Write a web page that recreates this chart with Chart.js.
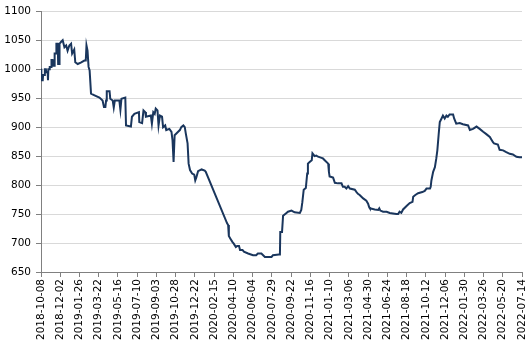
<!DOCTYPE html>
<html>
<head>
<meta charset="utf-8">
<script src="https://cdn.jsdelivr.net/npm/chart.js@4"></script>
<style>
  html, body { margin: 0; padding: 0; background: #fff; }
  #wrap { width: 530px; height: 354px; }
</style>
</head>
<body>
<div id="wrap"><canvas id="chart"></canvas></div>
<script>
// x tick labels, one every 55 days from 2018-10-08
const tickLabels = [
  "2018-10-08", "2018-12-02", "2019-01-26", "2019-03-22", "2019-05-16", "2019-07-10",
  "2019-09-03", "2019-10-28", "2019-12-22", "2020-02-15", "2020-04-10", "2020-06-04",
  "2020-07-29", "2020-09-22", "2020-11-16", "2021-01-10", "2021-03-06", "2021-04-30",
  "2021-06-24", "2021-08-18", "2021-10-12", "2021-12-06", "2022-01-30", "2022-03-26",
  "2022-05-20", "2022-07-14",
];
const tickStep = 55;

// days since 2018-10-08
const days = [
  0, 1, 5, 6, 10, 11, 14, 15, 19, 20, 21, 24, 25, 29, 30, 33, 34, 38, 39, 43, 44, 48, 49, 52, 53, 57, 62, 67, 72, 76,
  81, 86, 89, 95, 98, 105, 115, 124, 128, 130, 133, 136, 139, 143, 153, 167, 176, 180, 184, 186, 188, 196, 198, 205,
  208, 211, 224, 227, 230, 241, 243, 257, 260, 267, 280, 281, 289, 293, 298, 300, 314, 317, 321, 325, 328, 333, 336,
  340, 346, 349, 355, 358, 367, 373,
  376, 379, 382, 387, 392, 397, 401, 407, 411, 414, 419, 422, 426, 432, 438, 441, 444, 449, 459, 468, 471,
  532, 535, 537, 541, 547, 551, 557, 561, 566, 569, 576, 580, 592, 606, 615, 620, 630, 635, 640, 659, 663, 680, 683,
  684, 689, 692, 700, 706, 716, 725, 740, 744, 747, 751, 757, 761, 763, 768, 774, 776, 780, 782, 787, 792, 802, 806,
  811, 821, 823, 825, 830, 835, 840, 849, 859, 863, 868, 873, 878, 883, 897, 902, 906, 911, 916, 921, 930, 935, 938,
  940, 954, 964, 967, 970, 978, 988, 997, 1006, 1016, 1021, 1025, 1030, 1035, 1045, 1054, 1062, 1064, 1070, 1078,
  1090, 1097, 1102, 1112, 1114, 1116, 1121, 1126, 1130, 1133, 1137, 1140, 1145, 1149, 1154, 1159, 1163, 1168, 1178,
  1181, 1187, 1197, 1206, 1221, 1226, 1235, 1245, 1254, 1264, 1273, 1283, 1292, 1295, 1306, 1311, 1321, 1330, 1340,
  1349, 1359, 1368, 1375,
];
const prices = [
  1001, 981, 981, 990, 990, 1000, 1000, 995, 995, 981, 1000, 1000, 1004, 1004, 1016, 1016, 1006, 1006, 1027, 1027,
  1044, 1044, 1009, 1009, 1044, 1047, 1050, 1038, 1041, 1032, 1041, 1044, 1027, 1034, 1012, 1009, 1012, 1015, 1015,
  1041, 1032, 1004, 998, 958, 955, 951, 946, 935, 935, 946, 962, 962, 949, 946, 934, 946, 946, 930, 949, 951, 903,
  901, 918, 923, 926, 909, 907, 929, 926, 918, 920, 906, 926, 923, 932, 929, 903, 920, 918, 900, 903, 895, 897, 892,
  877, 840, 886, 889, 892, 895, 900, 903, 900, 889, 872, 837, 826, 820, 818, 808, 813, 824, 827, 825, 823,
  734, 731, 712, 708, 702, 699, 693, 695, 695, 688, 688, 685, 682, 679, 679, 682, 682, 679, 676, 676, 679, 680, 680,
  719, 719, 747, 751, 754, 756, 753, 752, 757, 770, 792, 795, 820, 837, 840, 843, 855, 852, 850, 851, 849, 847, 846,
  843, 837, 823, 815, 814, 813, 804, 803, 803, 797, 797, 794, 798, 794, 792, 788, 785, 783, 780, 777, 773, 768, 762,
  760, 758, 757, 760, 756, 754, 754, 752, 751, 750, 750, 754, 752, 758, 764, 769, 771, 780, 783, 786,
  788, 790, 794, 794, 797, 808, 823, 831, 846, 860, 889, 909, 915, 920, 915, 920, 918, 922, 922,
  915, 906, 907, 905, 903, 895, 897, 901, 897, 892, 888, 883, 874, 872, 870, 861, 860, 857, 854,
  853, 849, 848, 848,
];

const points = days.map((d, i) => ({ x: d, y: prices[i] }));
const font = { family: "DejaVu Sans", size: 10.5 };

new Chart(document.getElementById("chart"), {
  type: "line",
  data: {
    datasets: [
      {
        data: points,
        borderColor: "#1a365d",
        borderWidth: 2,
        pointRadius: 0,
        tension: 0,
      },
    ],
  },
  options: {
    responsive: true,
    maintainAspectRatio: false,
    animation: false,
    layout: { padding: { top: 7, right: 8, left: 0, bottom: 0 } },
    plugins: { legend: { display: false }, tooltip: { enabled: false } },
    scales: {
      x: {
        type: "linear",
        min: 0,
        max: (tickLabels.length - 1) * tickStep,
        grid: { drawOnChartArea: false, tickLength: 5, tickColor: "#808080" },
        border: { color: "#808080" },
        ticks: {
          stepSize: tickStep,
          autoSkip: false,
          minRotation: 90,
          maxRotation: 90,
          color: "#000",
          font: font,
          padding: 2,
          callback: (v) => tickLabels[Math.round(v / tickStep)],
        },
        afterFit: (scale) => {
          scale.height = 82;
          // last rotated label may hang past the plot edge, like the original
          scale.paddingRight = 0;
        },
      },
      y: {
        min: 650,
        max: 1100,
        grid: { color: "#d9d9d9", tickLength: 5, tickColor: "#808080" },
        border: { color: "#808080" },
        ticks: { stepSize: 50, color: "#000", font: font, padding: 5, callback: (v) => String(v) },
        afterFit: (scale) => {
          scale.width = 41;
        },
      },
    },
  },
});
</script>
</body>
</html>
